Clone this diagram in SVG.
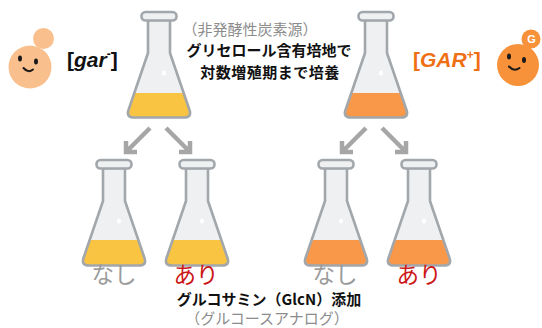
<svg xmlns="http://www.w3.org/2000/svg" width="542" height="328" viewBox="0 0 542 328">
  <style>
    .glass { fill: #eef0f2; }
    .outline { fill: none; stroke: #a2a7ac; stroke-width: 2.6; stroke-linejoin: round; }
    .rim { fill: #eef0f2; stroke: #a2a7ac; stroke-width: 2.6; }
    .shine { fill: #ffffff; }
    .yellow { fill: #f8c441; }
    .orange { fill: #f99848; }
    .arrow { fill: none; stroke: #a6a6a6; stroke-width: 4.5; stroke-linecap: butt; stroke-linejoin: miter; }
    .jp { font-family: "Noto Sans CJK JP", "Noto Sans", sans-serif; }
    .lat { font-family: "Liberation Sans", Arial, sans-serif; font-weight: bold; }
    .note { fill: #8c8c8c; font-size: 15px; }
    .head { fill: #111111; font-size: 15px; font-weight: bold; }
    .none { fill: #9a9a9a; font-size: 22.5px; }
    .yes { fill: #cc1717; font-size: 22.5px; }
    .eye { fill: #1a1a1a; }
    .mouth { fill: none; stroke: #1a1a1a; stroke-width: 2; stroke-linecap: round; }
  </style>
  <defs>
    <!-- flask body, local coordinates: centre x = 0, top of rim y = 0 -->
    <path id="body" d="M -11,9 V 42 L -30.5,99 Q -33,106.5 -25,106.5 H 25 Q 33,106.5 30.5,99 L 11,42 V 9 Z"/>
    <clipPath id="bodyClip"><use href="#body"/></clipPath>
    <g id="flask">
      <use href="#body" class="glass"/>
    </g>
    <g id="flaskTop">
      <use href="#body" class="outline"/>
      <rect class="rim" x="-17.5" y="1" width="35" height="8.5" rx="4"/>
      <ellipse class="shine" cx="5" cy="62" rx="2" ry="2.6"/>
    </g>
  </defs>

  <!-- connectors -->
  <g id="connectors">
    <path class="arrow" d="M150,128 L127,151 M126,141 V152 H137"/>
    <path class="arrow" d="M166,128 L189,151 M190,141 V152 H179"/>
    <path class="arrow" d="M366,128 L343,151 M342,141 V152 H353"/>
    <path class="arrow" d="M382,128 L405,151 M406,141 V152 H395"/>
  </g>

  <!-- parent cultures -->
  <g id="flask-gar-minus" transform="translate(159,11)">
    <use href="#flask"/>
    <rect class="yellow" x="-40" y="82" width="80" height="30" clip-path="url(#bodyClip)"/>
    <use href="#flaskTop"/>
  </g>
  <g id="flask-gar-plus" transform="translate(376,11)">
    <use href="#flask"/>
    <rect class="orange" x="-40" y="82" width="80" height="30" clip-path="url(#bodyClip)"/>
    <use href="#flaskTop"/>
  </g>

  <!-- subcultures -->
  <g id="flask-gar-minus-none" transform="translate(114,159)">
    <use href="#flask"/>
    <rect class="yellow" x="-40" y="81" width="80" height="30" clip-path="url(#bodyClip)"/>
    <use href="#flaskTop"/>
  </g>
  <g id="flask-gar-minus-glcn" transform="translate(197,159)">
    <use href="#flask"/>
    <rect class="yellow" x="-40" y="81" width="80" height="30" clip-path="url(#bodyClip)"/>
    <use href="#flaskTop"/>
  </g>
  <g id="flask-gar-plus-none" transform="translate(336,159)">
    <use href="#flask"/>
    <rect class="orange" x="-40" y="81" width="80" height="30" clip-path="url(#bodyClip)"/>
    <use href="#flaskTop"/>
  </g>
  <g id="flask-gar-plus-glcn" transform="translate(419,159)">
    <use href="#flask"/>
    <rect class="orange" x="-40" y="81" width="80" height="30" clip-path="url(#bodyClip)"/>
    <use href="#flaskTop"/>
  </g>

  <!-- yeast cells -->
  <g id="cell-gar-minus">
    <circle cx="43.5" cy="38.5" r="10.5" fill="#f9c08e"/>
    <circle cx="30" cy="67" r="21.5" fill="#f9c08e"/>
    <ellipse class="eye" cx="20" cy="58.5" rx="2" ry="3"/>
    <ellipse class="eye" cx="36" cy="61.5" rx="2" ry="3"/>
    <path class="mouth" d="M23.5,68 Q28,73.5 33,69.5"/>
  </g>
  <g id="cell-gar-plus">
    <circle cx="531" cy="39" r="9.5" fill="#f7923a"/>
    <circle cx="518" cy="65" r="21" fill="#f7923a"/>
    <text class="lat" x="531.5" y="43" font-size="11" fill="#ffffff" text-anchor="middle">G</text>
    <ellipse class="eye" cx="509" cy="56.5" rx="2" ry="3"/>
    <ellipse class="eye" cx="524" cy="60" rx="2" ry="3"/>
    <path class="mouth" d="M509,66.5 Q514,72 519.5,68"/>
  </g>

  <!-- genotype labels -->
  <g id="label-gar-minus">
    <text class="lat" x="67" y="67" font-size="21" fill="#111111">[<tspan font-style="italic">gar</tspan><tspan font-size="12" dy="-9">-</tspan><tspan dy="9">]</tspan></text>
  </g>
  <g id="label-gar-plus">
    <text class="lat" x="413" y="67" font-size="21" fill="#ef6f14">[<tspan font-style="italic">GAR</tspan><tspan font-size="12" dy="-8">+</tspan><tspan dy="8">]</tspan></text>
  </g>

  <!-- culture conditions -->
  <g id="label-medium">
    <text class="jp note" x="250" y="35" text-anchor="middle">（非発酵性炭素源）</text>
    <text class="jp head" x="269" y="56" text-anchor="middle">グリセロール含有培地で</text>
    <text class="jp head" x="270" y="78" text-anchor="middle" letter-spacing="0.5">対数増殖期まで培養</text>
  </g>

  <!-- GlcN addition -->
  <text class="jp none" x="114" y="283" text-anchor="middle">なし</text>
  <text class="jp yes" x="196" y="283" text-anchor="middle">あり</text>
  <text class="jp none" x="335" y="283" text-anchor="middle">なし</text>
  <text class="jp yes" x="419" y="283" text-anchor="middle">あり</text>
  <g id="label-glcn">
    <text class="jp head" x="269" y="305" font-size="13" text-anchor="middle">グルコサミン（GlcN）添加</text>
    <text class="jp note" x="267" y="324" font-size="15.5" text-anchor="middle">（グルコースアナログ）</text>
  </g>
</svg>
